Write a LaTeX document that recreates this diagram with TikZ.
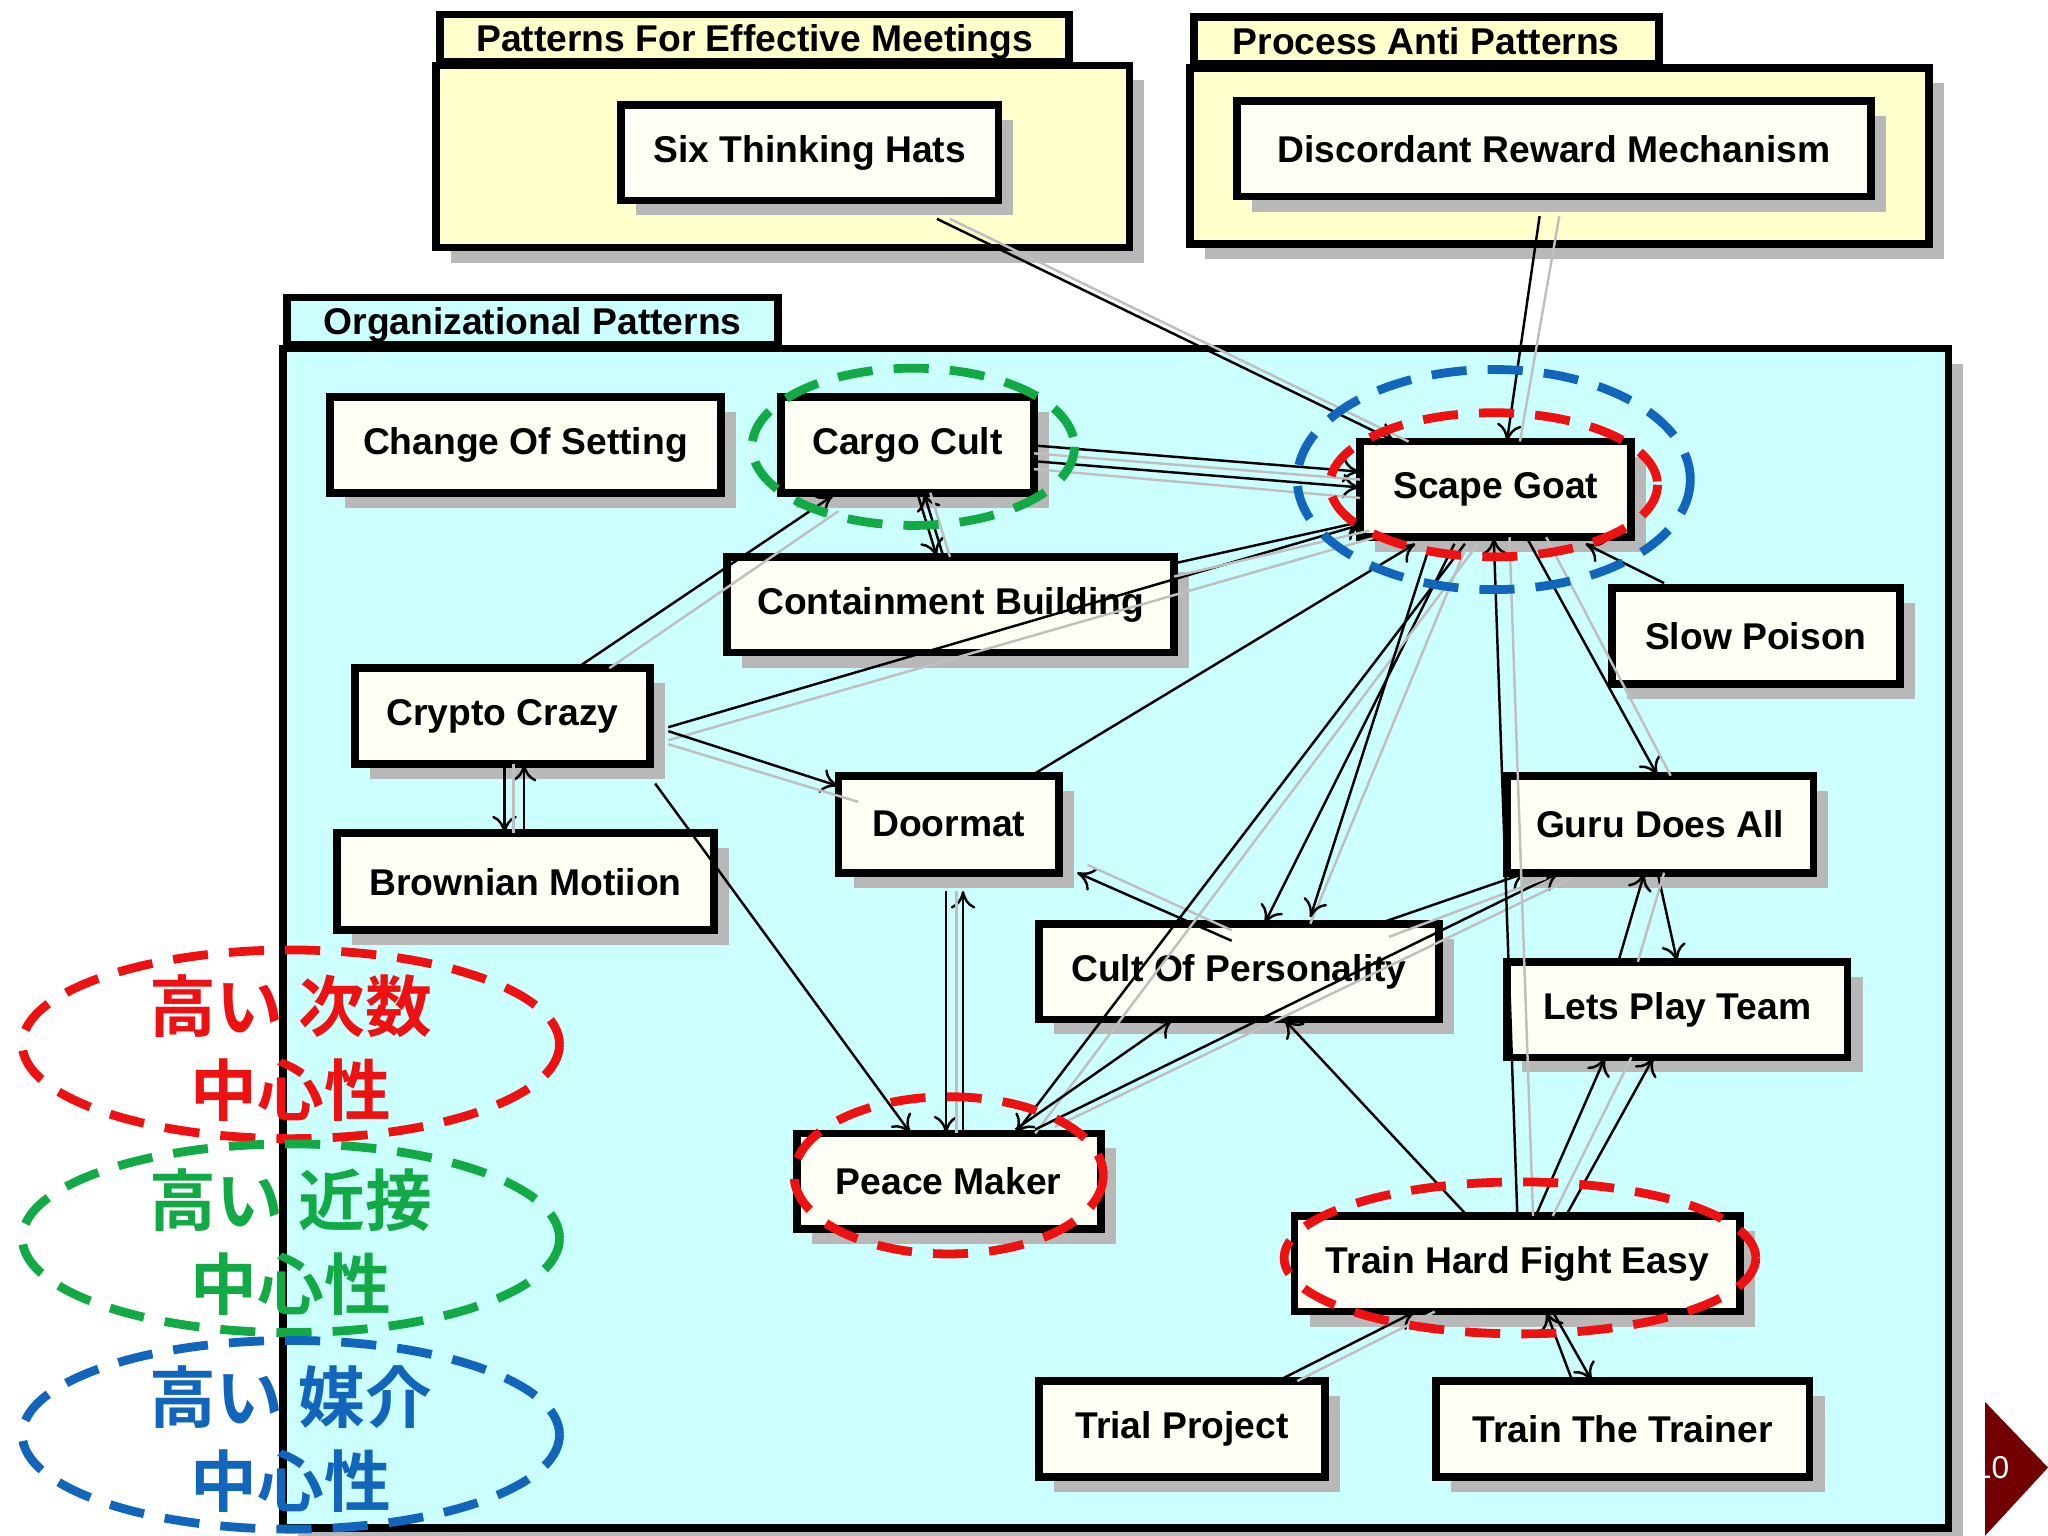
\documentclass[tikz,border=0pt]{standalone}
\usepackage{fontspec}
\setmainfont{Liberation Sans}
\newfontfamily\cjk{Noto Sans CJK JP}[BoldFont={* Bold}]
\usetikzlibrary{shadows,arrows.meta}
\definecolor{pkg}{HTML}{FFFFCC}
\definecolor{org}{HTML}{CCFFFF}
\definecolor{lred}{HTML}{EE1111}
\definecolor{lgreen}{HTML}{11AA44}
\definecolor{lblue}{HTML}{1166BB}
\tikzset{
 box/.style={draw, line width=2.2pt, fill=white!96!yellow, inner sep=0pt, font=\fontsize{10.6}{12}\selectfont\bfseries,
   drop shadow={shadow xshift=0.15cm, shadow yshift=-0.15cm, fill=black!28, opacity=1}},
 pk/.style={draw, line width=2.2pt, fill=pkg, drop shadow={shadow xshift=0.15cm, shadow yshift=-0.15cm, fill=black!28, opacity=1}},
 tab/.style={draw, line width=2.2pt, fill=pkg, anchor=south west, inner sep=0pt, text depth=-4pt, font=\fontsize{10.6}{12}\selectfont\bfseries},
 e/.style={-{To[length=5pt,width=7pt]}, line width=0.7pt},
 g/.style={line width=0.7pt, black!25},
 ov/.style={dashed, dash pattern=on 10pt off 6pt, line width=2.5pt},
 leg/.style={font=\cjk\fontsize{19}{24}\selectfont\bfseries, align=center}
}
\newcommand{\bx}[6]{\node[box, minimum width={(#4-#2)*0.013103cm}, minimum height={(#5-#3)*0.013103cm}] (#1) at ({(#2+#4)/2},{(#3+#5)/2}) {#6};}
\begin{document}
\begin{tikzpicture}[x=0.013103cm,y=-0.013103cm]
\useasboundingbox[fill=white] (0,0) rectangle (1563,1172);
% packages
\node[tab, minimum width={480*0.013103cm}, minimum height={36*0.013103cm}] (t1) at (333,50) {Patterns For Effective Meetings};
\draw[pk] (333,50) rectangle (862,189);
\node[tab, minimum width={355*0.013103cm}, minimum height={36*0.013103cm}] (t2) at (908,52) {Process Anti Patterns\hspace{1.5em}};
\draw[pk] (908,52) rectangle (1472,186);
\node[tab, fill=org, minimum width={375*0.013103cm}, minimum height={36*0.013103cm}] (t3) at (216,266) {Organizational Patterns\hspace{1.2em}};
\draw[pk, fill=org] (216,266) rectangle (1487,1166);
\bx{six}{474}{80}{762}{153}{Six Thinking Hats}
\bx{dis}{944}{77}{1428}{150}{Discordant Reward Mechanism}
\bx{cos}{252}{303}{550}{376}{Change Of Setting}
\bx{cc}{596}{303}{789}{376}{Cargo Cult}
\bx{sg}{1038}{337}{1245}{410}{Scape Goat}
\bx{cb}{555}{425}{896}{498}{Containment Building}
\bx{sp}{1230}{449}{1450}{522}{Slow Poison}
\bx{cr}{271}{510}{496}{583}{Crypto Crazy}
\bx{dm}{640}{592}{808}{666}{Doormat}
\bx{gu}{1150}{592}{1384}{666}{Guru Does All}
\bx{bm}{257}{636}{545}{710}{Brownian Motiion}
\bx{cp}{793}{705}{1098}{778}{Cult Of Personality}
\bx{lp}{1150}{734}{1410}{807}{Lets Play Team}
\bx{pm}{608}{865}{840}{938}{Peace Maker}
\bx{th}{988}{928}{1328}{1001}{Train Hard Fight Easy}
\bx{tp}{793}{1054}{1011}{1127}{Trial Project}
\bx{tt}{1096}{1054}{1381}{1127}{Train The Trainer}
% edges
\coordinate (sgT) at (1065,337); \coordinate (sgTa) at (1150,337);
\draw[e] (715,167) -- (sgT); \draw[g] (725,167) -- (1075,337);
\draw[e] (1175,165) -- (sgTa); \draw[g] (1190,165) -- (1160,337);
\draw[e] (789,340) -- (1038,360); \draw[e] (789,352) -- (1038,372);
\draw[g] (789,346) -- (1038,366); \draw[g] (789,358) -- (1038,380);
\draw[e] (700,376) -- (715,425); \draw[e] (720,425) -- (705,376); \draw[g] (710,376) -- (725,425);
\draw[e] (440,510) -- (636,378); \draw[g] (465,510) -- (640,390);
\draw[e] (510,555) -- (1040,400); \draw[g] (510,565) -- (1050,410);
\draw[e] (896,430) -- (1040,398); \draw[g] (896,440) -- (1045,405);
\draw[e] (510,558) -- (640,600);  \draw[g] (510,568) -- (655,612);
\draw[e] (385,583) -- (385,636); \draw[e] (400,636) -- (400,583); \draw[g] (392,583) -- (392,636);
\draw[e] (500,598) -- (695,865);
\draw[e] (787,592) -- (1080,415);
\draw[e] (722,680) -- (722,865); \draw[e] (735,865) -- (735,680); \draw[g] (730,680) -- (730,865);
\draw[e] (940,718) -- (822,666); \draw[g] (830,660) -- (940,710);
\draw[e] (1110,415) -- (965,705); \draw[g] (1120,415) -- (1000,705);
\draw[e] (1118,415) -- (775,865); \draw[g] (1128,415) -- (790,865);
\draw[e] (1090,420) -- (1000,700);
\draw[e] (775,862) -- (895,778); \draw[e] (790,862) -- (1190,666); \draw[g] (805,860) -- (1200,670);
\draw[e] (1165,410) -- (1265,592); \draw[g] (1180,410) -- (1275,592);
\draw[e] (1270,445) -- (1210,415);
\draw[e] (1052,705) -- (1165,666); \draw[g] (1060,715) -- (1180,670);
\draw[e] (1235,734) -- (1255,666); \draw[e] (1265,666) -- (1280,734); \draw[g] (1250,734) -- (1270,666);
\draw[e] (1158,928) -- (1140,410); \draw[g] (1170,928) -- (1152,410);
\draw[e] (1172,928) -- (1225,807); \draw[g] (1185,928) -- (1245,807); \draw[e] (1195,928) -- (1262,807);
\draw[e] (1120,928) -- (980,778);
\draw[e] (975,1054) -- (1080,1001); \draw[g] (990,1054) -- (1095,1001);
\draw[e] (1185,1001) -- (1215,1054); \draw[e] (1200,1054) -- (1180,1001);
% highlight ovals
\draw[ov, lgreen] (697,341) ellipse [x radius=123, y radius=60];
\draw[ov, lred] (1140,370) ellipse [x radius=125, y radius=55];
\draw[ov, lblue] (1140,366) ellipse [x radius=150, y radius=84];
\draw[ov, lred] (724,897) ellipse [x radius=118, y radius=60];
\draw[ov, lred] (1160,960) ellipse [x radius=180, y radius=58];
% legend
\draw[ov, lred] (222,797) ellipse [x radius=205, y radius=72];
\node[leg, text=lred] (l1) at (222,800) {高い 次数\\中心性};
\draw[ov, lgreen] (222,945) ellipse [x radius=205, y radius=72];
\node[leg, text=lgreen] (l2) at (222,948) {高い 近接\\中心性};
\draw[ov, lblue] (222,1095) ellipse [x radius=205, y radius=72];
\node[leg, text=lblue] (l3) at (222,1098) {高い 媒介\\中心性};
% corner
\fill[red!45!black] (1515,1070) -- (1563,1120) -- (1515,1172) -- cycle;
\node[text=white, font=\fontsize{9}{10}\selectfont] (pg) at (1520,1120) {10};
\end{tikzpicture}
\end{document}
